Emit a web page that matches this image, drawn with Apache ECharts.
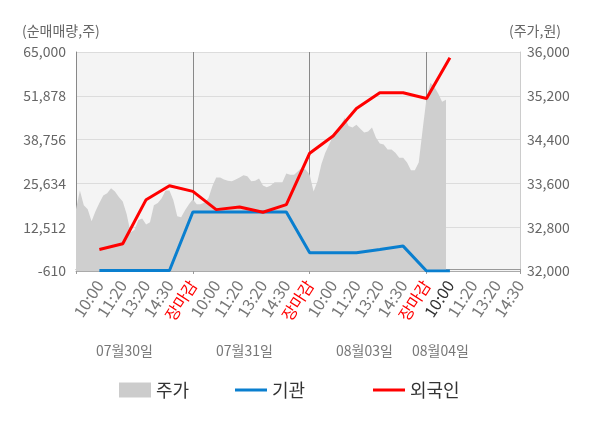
<!DOCTYPE html>
<html>
<head>
<meta charset="utf-8">
<script src="https://cdn.jsdelivr.net/npm/echarts@6/dist/echarts.min.js"></script>
<style>
html, body { margin: 0; padding: 0; background: #fff; }
#chart { width: 600px; height: 428px; }
</style>
</head>
<body>
<div id="chart"></div>
<script>
// x축 시간 구분 (일별 5칸, 첫 칸은 비움)
var timeLabels = ['',
    '10:00', '11:20', '13:20', '14:30', '장마감',
    '10:00', '11:20', '13:20', '14:30', '장마감',
    '10:00', '11:20', '13:20', '14:30', '장마감',
    '10:00', '11:20', '13:20', '14:30'];
var dateLabels = ['07월30일', '07월31일', '08월03일', '08월04일'];

// 순매매량 (주)
var instData = [null,
    -450, -450, -450, -450, 17085,
    17085, 17085, 17085, 17085, 4860,
    4860, 4860, 5850, 6850, -600,
    -600, null, null, null];
var foreignData = [null,
    5850, 7540, 20760, 24940, 23250,
    17780, 18580, 16990, 19270, 34680,
    39850, 48100, 52770, 52770, 51080,
    63310, null, null, null];

// 주가 (원), 분 단위를 줄여서 읽은 값
var priceData = [
    33130, 33470, 33200, 33130, 32910, 33090, 33240, 33380, 33420, 33510,
    33450, 33350, 33270, 33040, 32710, 32750, 32930, 32960, 32850, 32890,
    33200, 33240, 33330, 33470, 33470, 33290, 33000, 32980, 33110, 33220,
    33310, 33220, 33220, 33250, 33330, 33550, 33710, 33710, 33670, 33650,
    33640, 33670, 33710, 33750, 33730, 33640, 33650, 33690, 33560, 33530,
    33560, 33620, 33620, 33620, 33780, 33760, 33760, 33820, 33890, 33850,
    33760, 33450, 33640, 33950, 34160, 34310, 34470, 34550, 34670, 34800,
    34650, 34620, 34670, 34600, 34530, 34550, 34620, 34440, 34330, 34310,
    34220, 34220, 34160, 34070, 34070, 33980, 33840, 33840, 33980, 34580,
    35160, 35440, 35360, 35240, 35090, 35130
];
var priceSlots = 115;
var priceAxis = [];
for (var i = 0; i < priceSlots; i++) priceAxis.push(String(i));

var leftTicks = { min: -610, max: 65000, interval: 13122 };
var rightTicks = { min: 32000, max: 36000, interval: 800 };

var FONT = 'Noto Sans CJK KR';

function comma(v) {
    return Number(v).toLocaleString('en-US');
}

var chart = echarts.init(document.getElementById('chart'));
chart.setOption({
    animation: false,
    textStyle: { fontFamily: FONT },
    grid: {
        left: 76, right: 80, top: 52, bottom: 157,
        show: true, backgroundColor: '#f4f4f4', borderWidth: 0
    },
    legend: [
        { data: ['주가'], left: 114, top: 376, icon: 'rect', itemWidth: 32, itemHeight: 15,
          textStyle: { fontSize: 18, color: '#333', fontFamily: FONT } },
        { data: ['기관'], left: 230, top: 376, icon: 'rect', itemWidth: 32, itemHeight: 3,
          textStyle: { fontSize: 18, color: '#333', fontFamily: FONT } },
        { data: ['외국인'], left: 368, top: 376, icon: 'rect', itemWidth: 32, itemHeight: 3,
          textStyle: { fontSize: 18, color: '#333', fontFamily: FONT } }
    ],
    xAxis: [{
        type: 'category',
        data: timeLabels,
        boundaryGap: false,
        offset: 3,
        axisLine: { lineStyle: { color: '#999' } },
        axisTick: {
            length: 5,
            lineStyle: { color: '#999' },
            interval: function (idx) { return idx % 5 === 0 || idx === timeLabels.length - 1; }
        },
        splitLine: {
            show: true,
            lineStyle: { color: '#888' },
            interval: function (idx) { return idx > 0 && idx % 5 === 0; }
        },
        axisLabel: {
            interval: 0,
            rotate: 57,
            margin: 8,
            fontSize: 16,
            fontFamily: FONT,
            color: function (value, idx) {
                if (value === '장마감') return '#ff0000';
                if (idx === 16) return '#333';
                return '#777';
            }
        }
    }, {
        type: 'category',
        data: priceAxis,
        boundaryGap: false,
        position: 'bottom',
        axisLine: { show: true, lineStyle: { color: '#aaa' } },
        axisTick: { show: false },
        axisLabel: { show: false },
        splitLine: { show: false }
    }],
    yAxis: [{
        type: 'value',
        min: leftTicks.min, max: leftTicks.max, interval: leftTicks.interval,
        position: 'left',
        axisLine: { show: true, lineStyle: { color: '#888' } },
        axisTick: { show: false },
        axisLabel: { fontSize: 14, color: '#666', margin: 10, fontFamily: FONT, formatter: comma },
        splitLine: { lineStyle: { color: '#dcdcdc' } }
    }, {
        type: 'value',
        min: rightTicks.min, max: rightTicks.max, interval: rightTicks.interval,
        position: 'right',
        axisLine: { show: true, lineStyle: { color: '#ccc' } },
        axisTick: { show: false },
        axisLabel: { fontSize: 14, color: '#666', margin: 7, fontFamily: FONT, formatter: comma },
        splitLine: { show: false }
    }],
    series: [{
        name: '주가',
        type: 'line',
        xAxisIndex: 1,
        yAxisIndex: 1,
        data: priceData,
        showSymbol: false,
        itemStyle: { color: '#cccccc' },
        lineStyle: { width: 0, color: '#cccccc' },
        areaStyle: { color: '#cfcfcf', opacity: 1 },
        z: 1
    }, {
        name: '기관',
        type: 'line',
        data: instData,
        showSymbol: false,
        itemStyle: { color: '#0a7fcf' },
        lineStyle: { width: 3, color: '#0a7fcf' },
        z: 3
    }, {
        name: '외국인',
        type: 'line',
        data: foreignData,
        showSymbol: false,
        itemStyle: { color: '#ff0000' },
        lineStyle: { width: 3, color: '#ff0000' },
        z: 4
    }],
    graphic: [
        { type: 'text', left: 22, top: 24,
          style: { text: '(순매매량,주)', font: '14px "' + FONT + '"', fill: '#666' } },
        { type: 'text', left: 509, top: 24,
          style: { text: '(주가,원)', font: '14px "' + FONT + '"', fill: '#666' } },
        { type: 'text', left: 96, top: 344,
          style: { text: dateLabels[0], font: '14px "' + FONT + '"', fill: '#777' } },
        { type: 'text', left: 216, top: 344,
          style: { text: dateLabels[1], font: '14px "' + FONT + '"', fill: '#777' } },
        { type: 'text', left: 336, top: 344,
          style: { text: dateLabels[2], font: '14px "' + FONT + '"', fill: '#777' } },
        { type: 'text', left: 412, top: 344,
          style: { text: dateLabels[3], font: '14px "' + FONT + '"', fill: '#777' } }
    ]
});
</script>
</body>
</html>
